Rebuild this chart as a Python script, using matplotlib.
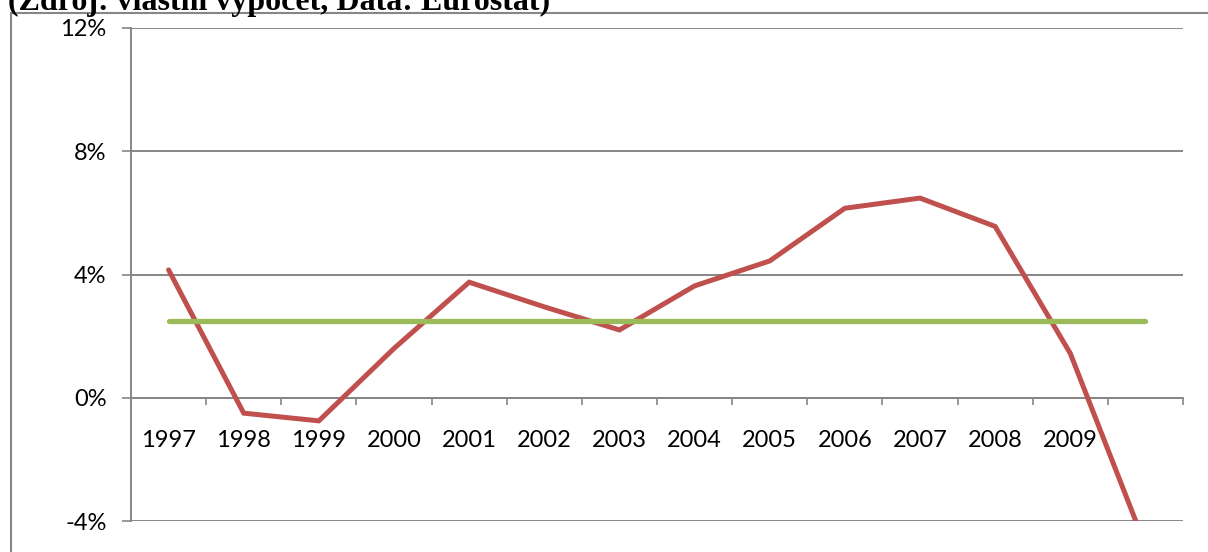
import numpy as np
import matplotlib.pyplot as plt
from matplotlib.patches import Rectangle
from matplotlib.ticker import FixedLocator, NullFormatter, FixedFormatter

# Data
years = ['1997', '1998', '1999', '2000', '2001', '2002', '2003',
         '2004', '2005', '2006', '2007', '2008', '2009', '']
growth = [4.15, -0.5, -0.75, 1.6, 3.75, 2.95, 2.2,
          3.63, 4.44, 6.15, 6.48, 5.56, 1.44, -4.8]
average = [2.5] * len(years)
y_ticks = [-4, 0, 4, 8, 12]
y_labels = ['-4%', '0%', '4%', '8%', '12%']

title = '(Zdroj: vlastní výpočet, Data: Eurostat)'

grid_col = '#868686'
red = '#C0504D'
green = '#9BBB59'

W, H = 1208, 552
fig = plt.figure(figsize=(W / 100, H / 100), dpi=100)

# outer chart border (cut off at right and bottom)
fig.patches.append(Rectangle((11 / W, -0.1), 1.2, 1 - 13 / H + 0.1,
                             transform=fig.transFigure, fill=False,
                             edgecolor=grid_col, linewidth=1.5, zorder=0))

fig.text(8 / W, 1 - 10 / H, title, fontsize=23, fontweight='bold',
         family='Liberation Serif', ha='left', va='baseline')

left, right, top, bottom = 131, 1183, 28, 521
ax = fig.add_axes([left / W, 1 - bottom / H, (right - left) / W, (bottom - top) / H])
ax.set_facecolor('none')

x = np.arange(len(years))
ax.plot(x, growth, color=red, linewidth=3.6, solid_capstyle='round',
        solid_joinstyle='miter', zorder=3)
ax.plot(x, average, color=green, linewidth=3.8, solid_capstyle='round', zorder=4)

ax.set_xlim(-0.5, len(years) - 0.5)
ax.set_ylim(-4, 12)

ax.set_yticks(y_ticks)
ax.set_yticklabels(y_labels)
ax.yaxis.grid(True, color=grid_col, linewidth=1.4)
ax.set_axisbelow(True)
ax.tick_params(axis='y', direction='out', length=6.5, width=1.2, color=grid_col,
               pad=11, labelsize=17)

# category axis crossing at 0
ax.spines['bottom'].set_position(('data', 0))
ax.spines['bottom'].set_color(grid_col)
ax.spines['bottom'].set_linewidth(1.4)
ax.spines['left'].set_color(grid_col)
ax.spines['left'].set_linewidth(1.4)
ax.spines['top'].set_visible(False)
ax.spines['right'].set_visible(False)

ax.xaxis.set_major_locator(FixedLocator(np.arange(len(years) + 1) - 0.5))
ax.xaxis.set_major_formatter(NullFormatter())
ax.xaxis.set_minor_locator(FixedLocator(x))
ax.xaxis.set_minor_formatter(FixedFormatter(years))
ax.tick_params(axis='x', which='major', direction='out', length=5, width=1.2,
               color=grid_col)
ax.tick_params(axis='x', which='minor', length=0, pad=23, labelsize=17)

for lbl in ax.get_xticklabels(minor=True) + ax.get_yticklabels():
    lbl.set_family('Lato')

fig.savefig('out.png', dpi=100)
